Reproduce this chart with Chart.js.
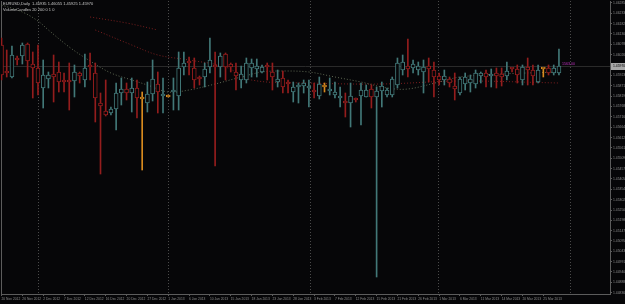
<!DOCTYPE html>
<html><head><meta charset="utf-8">
<script src="https://cdn.jsdelivr.net/npm/chart.js@4/dist/chart.umd.min.js"></script>
<style>html,body{margin:0;padding:0;background:#060608;overflow:hidden}#wrap{width:625px;height:304px}</style>
</head><body><div id="wrap"><canvas id="c" width="625" height="304"></canvas></div>
<script>
// ---------- data ----------
const symbolName = "EURUSD,Daily";
const indicatorName = "VolumeCandles 20 200 0 1 0";
const sideLabel = "1563.00";

const open = [1.46075,
 1.45945,1.45915,1.46005,1.46020,1.46080,1.45980,1.45960,1.45860,1.45905,1.45930,
 1.45940,1.45895,1.45895,1.45895,1.45935,1.45900,1.45970,1.45935,1.45785,1.45745,
 1.45735,1.45755,1.45835,1.45855,1.45835,1.45860,1.45810,1.45785,1.45830,1.45880,
 1.45820,1.45820,1.45840,1.45820,1.45965,1.45990,1.45960,1.45915,1.45915,1.45965,
 1.45975,1.45965,1.46030,1.45980,1.45940,1.45900,1.45900,1.45960,1.45955,1.45940,
 1.45970,1.45940,1.45890,1.45910,1.45890,1.45840,1.45865,1.45870,1.45860,1.45845,
 1.45820,1.45870,1.45845,1.45825,1.45810,1.45790,1.45785,1.45805,1.45820,1.45815,
 1.45855,1.45815,1.45845,1.45825,1.45825,1.45875,1.45950,1.45970,1.45960,1.45950,
 1.45940,1.45970,1.45950,1.45920,1.45900,1.45905,1.45870,1.45835,1.45880,1.45885,
 1.45880,1.45920,1.45935,1.45920,1.45935,1.45930,1.45920,1.45960,1.45955,1.45900,
 1.45965,1.45950,1.45890,1.45955,1.45960,1.45935,1.45935];
const high = [1.46110,
 1.46050,1.46070,1.46020,1.46085,1.46085,1.46040,1.46075,1.46000,1.45940,1.46025,
 1.45990,1.45935,1.45985,1.45975,1.45940,1.46030,1.46035,1.45985,1.45835,1.45900,
 1.45765,1.45885,1.45910,1.45885,1.45910,1.45900,1.45840,1.45890,1.46000,1.45940,
 1.45910,1.45825,1.45910,1.46040,1.46040,1.46015,1.46010,1.45920,1.45985,1.46110,
 1.46040,1.46035,1.46035,1.45985,1.45985,1.45970,1.46010,1.46005,1.46005,1.45975,
 1.45985,1.45985,1.45950,1.45945,1.45900,1.45890,1.45885,1.45900,1.45900,1.45885,
 1.45915,1.45885,1.45910,1.45890,1.45865,1.45835,1.45885,1.45810,1.45885,1.45875,
 1.45875,1.45865,1.45890,1.45860,1.45915,1.46010,1.46025,1.46105,1.46000,1.45990,
 1.46000,1.46010,1.45990,1.45935,1.45950,1.45915,1.45935,1.45915,1.45935,1.45925,
 1.45950,1.45940,1.45950,1.45955,1.45960,1.45960,1.45990,1.45960,1.45975,1.45975,
 1.46010,1.45975,1.45975,1.45960,1.45975,1.45975,1.46055];
const low = [1.45900,
 1.45915,1.45910,1.45975,1.45980,1.45915,1.45810,1.45825,1.45760,1.45860,1.45790,
 1.45840,1.45840,1.45750,1.45815,1.45885,1.45865,1.45900,1.45690,1.45430,1.45720,
 1.45725,1.45650,1.45775,1.45800,1.45740,1.45710,1.45450,1.45740,1.45795,1.45735,
 1.45735,1.45815,1.45750,1.45750,1.45925,1.45925,1.45860,1.45875,1.45865,1.45935,
 1.45470,1.45915,1.45900,1.45940,1.45850,1.45860,1.45885,1.45915,1.45915,1.45935,
 1.45900,1.45850,1.45865,1.45835,1.45835,1.45790,1.45785,1.45835,1.45765,1.45810,
 1.45805,1.45840,1.45825,1.45810,1.45765,1.45715,1.45665,1.45790,1.45675,1.45815,
 1.45760,1.44915,1.45765,1.45815,1.45815,1.45860,1.45925,1.45915,1.45935,1.45925,
 1.45835,1.45890,1.45815,1.45875,1.45875,1.45865,1.45800,1.45825,1.45850,1.45840,
 1.45860,1.45885,1.45865,1.45865,1.45860,1.45870,1.45900,1.45940,1.45885,1.45875,
 1.45875,1.45875,1.45885,1.45915,1.45925,1.45925,1.45925];
const close = [1.45925,
 1.45935,1.46025,1.46000,1.46075,1.45995,1.45960,1.45885,1.45925,1.45925,1.45915,
 1.45890,1.45890,1.45890,1.45940,1.45920,1.45960,1.45965,1.45810,1.45770,1.45725,
 1.45755,1.45835,1.45855,1.45835,1.45860,1.45810,1.45805,1.45830,1.45905,1.45840,
 1.45825,1.45815,1.45845,1.45960,1.45985,1.45985,1.45900,1.45905,1.45955,1.46000,
 1.45965,1.46020,1.45965,1.45965,1.45920,1.45930,1.45985,1.45985,1.45970,1.45965,
 1.45965,1.45915,1.45905,1.45865,1.45880,1.45865,1.45875,1.45885,1.45870,1.45840,
 1.45880,1.45865,1.45850,1.45840,1.45815,1.45785,1.45820,1.45800,1.45850,1.45850,
 1.45815,1.45845,1.45870,1.45850,1.45905,1.45985,1.45990,1.45955,1.45980,1.45970,
 1.45965,1.45955,1.45915,1.45900,1.45920,1.45885,1.45855,1.45905,1.45915,1.45905,
 1.45935,1.45935,1.45915,1.45930,1.45920,1.45915,1.45945,1.45955,1.45925,1.45965,
 1.45950,1.45920,1.45950,1.45955,1.45935,1.45960,1.45970];
const firstBar = -1;
const orangeBars = [26, 31, 61, 103];

const maGreyX = [-1, 3, 6, 8, 12, 16, 20, 24, 27, 31, 35, 40, 45, 49, 53, 58, 63, 68, 73, 77, 83, 87, 95, 106];
const maGreyY = [1.46275,1.46240,1.46195,1.46150,1.46065,1.45995,1.45935,1.45900,1.45875,1.45840,1.45850,1.45880,
                 1.45915,1.45940,1.45945,1.45940,1.45915,1.45890,1.45860,1.45855,1.45890,1.45915,1.45930,1.45940];
const maRedX = [17, 24, 29, 35, 42, 47, 58, 72, 87, 106];
const maRedY = [1.46150,1.46075,1.46025,1.46000,1.45965,1.45900,1.45885,1.45880,1.45895,1.45885];
const maRed2X = [16, 23, 29];
const maRed2Y = [1.46215,1.46185,1.46150];

const xTickBars = [-1,3,7,11,15,19,23,27,31,35,39,43,47,51,55,59,63,67,71,75,79,83,87,91,95,99,103];
const xTickLabels = ["20 Nov 2012","26 Nov 2012","2 Dec 2012","7 Dec 2012","12 Dec 2012","16 Dec 2012","20 Dec 2012",
 "27 Dec 2012","1 Jan 2013","6 Jan 2013","10 Jan 2013","15 Jan 2013","18 Jan 2013","23 Jan 2013","28 Jan 2013",
 "3 Feb 2013","7 Feb 2013","12 Feb 2013","15 Feb 2013","21 Feb 2013","26 Feb 2013","1 Mar 2013","6 Mar 2013",
 "11 Mar 2013","14 Mar 2013","20 Mar 2013","25 Mar 2013"];
const monthSeparators = [6.0, 31.0, 58.2, 82.8, 108.1];
const yTickValues = [1.46285,1.46233,1.46182,1.46130,1.46078,1.46026,1.45975,1.45923,1.45871,1.45819,
 1.45768,1.45716,1.45664,1.45612,1.45561,1.45509,1.45457,1.45405,1.45354,1.45302,1.45250,1.45198,
 1.45147,1.45095,1.45043,1.44991,1.44940,1.44888,1.44836];

// ---------- style ----------
const BG = '#060608', TEAL = '#427878', RED = '#941d1d', ORANGE = '#d88a1e';
const AXIS = '#5c5c5c', TXT = '#8c8c8c';
const FONT = 'Liberation Sans';

const barX = open.map((_, k) => k + firstBar);
function colorOf(k) {
  const b = barX[k];
  if (orangeBars.includes(b)) return ORANGE;
  return close[k] > open[k] ? TEAL : RED;
}
const lastK = open.length - 1;

const overlay = {
  id: 'overlay',
  beforeDraw(chart) {
    const c = chart.ctx; c.save(); c.fillStyle = BG; c.fillRect(0, 0, chart.width, chart.height); c.restore();
  },
  beforeDatasetsDraw(chart) {
    const {ctx, chartArea: a, scales: {x, y}} = chart;
    ctx.save();
    ctx.lineWidth = 1;
    ctx.strokeStyle = '#4a4a4a'; ctx.setLineDash([1, 2]);
    monthSeparators.forEach(v => {
      const px = Math.round(x.getPixelForValue(v)) + 0.5;
      ctx.beginPath(); ctx.moveTo(px, a.top); ctx.lineTo(px, a.bottom); ctx.stroke();
    });
    ctx.setLineDash([]);
    const py = Math.round(y.getPixelForValue(close[lastK])) + 0.5;
    ctx.strokeStyle = '#2a2a2a';
    ctx.beginPath(); ctx.moveTo(a.left, py); ctx.lineTo(a.right, py); ctx.stroke();
    ctx.strokeStyle = AXIS;
    ctx.beginPath(); ctx.moveTo(a.left + 0.5, a.top); ctx.lineTo(a.left + 0.5, a.bottom); ctx.stroke();
    ctx.restore();
  },
  afterDraw(chart) {
    const {ctx, chartArea: a, scales: {x, y}} = chart;
    ctx.save();
    ctx.textBaseline = 'middle'; ctx.textAlign = 'left';
    ctx.font = '4px ' + FONT; ctx.fillStyle = '#c8c8c8';
    const t1 = symbolName + '  ' + [open[lastK], high[lastK], low[lastK], close[lastK]].map(v => v.toFixed(5)).join(' ');
    ctx.fillText(t1, 3, 3.5);
    ctx.fillText(indicatorName, 3, 9.5);
    const py = y.getPixelForValue(close[lastK]);
    ctx.font = '3.6px ' + FONT; ctx.fillStyle = '#c030c0';
    ctx.fillText(sideLabel, x.getPixelForValue(barX[lastK]) + 3, py - 2.5);
    ctx.fillStyle = '#a8a8a8';
    ctx.fillRect(a.right + 1, Math.round(py) - 3, chart.width - a.right - 1, 7);
    ctx.fillStyle = '#000';
    ctx.font = '3.4px ' + FONT;
    ctx.fillText(close[lastK].toFixed(5), a.right + 3, Math.round(py) + 0.5);
    ctx.restore();
  }
};

const lineDs = (xs, ys, color) => ({
  type: 'line', data: xs.map((v, i) => ({x: v, y: ys[i]})), borderColor: color, borderWidth: 1,
  borderDash: [1, 2], pointRadius: 0, tension: 0.35, order: 5, fill: false
});

new Chart(document.getElementById('c'), {
  type: 'bar',
  data: {
    datasets: [
      lineDs(maGreyX, maGreyY, '#5e6852'),
      lineDs(maRedX, maRedY, '#7a1e1e'),
      lineDs(maRed2X, maRed2Y, '#7a1e1e'),
      {
        data: barX.map((b, k) => ({x: b, y: [low[k], high[k]]})),
        backgroundColor: c => colorOf(c.dataIndex), borderWidth: 0,
        barThickness: 1, grouped: false, order: 2
      },
      {
        data: barX.map((b, k) => ({x: b, y: [open[k], close[k]]})),
        backgroundColor: BG, borderColor: c => colorOf(c.dataIndex), borderWidth: 1,
        borderSkipped: false, barThickness: 4, grouped: false, order: 1, minBarLength: 2
      }
    ]
  },
  options: {
    animation: false, responsive: false, maintainAspectRatio: false,
    layout: {padding: {left: 1, top: 1, right: 0, bottom: 0}},
    plugins: {legend: {display: false}, tooltip: {enabled: false}},
    scales: {
      x: {
        type: 'linear', min: -1.1, max: 115.8, position: 'bottom', offset: false,
        afterBuildTicks: s => { s.ticks = xTickBars.map(v => ({value: v})); },
        afterFit: s => { s.height = 10; s.paddingLeft = 0; s.paddingRight = 0; },
        ticks: {callback: (v, i) => xTickLabels[i], autoSkip: false, maxRotation: 0, minRotation: 0,
                align: 'start', color: TXT, font: {size: 3.3, family: FONT}, padding: 1},
        grid: {drawOnChartArea: false, tickLength: 2, color: AXIS, offset: false},
        border: {display: true, color: AXIS}
      },
      y: {
        type: 'linear', position: 'right', min: 1.44830, max: 1.46295,
        afterBuildTicks: s => { s.ticks = yTickValues.map(v => ({value: v})); },
        afterFit: s => { s.width = 15; s.paddingTop = 0; s.paddingBottom = 0; },
        ticks: {callback: v => v.toFixed(5), autoSkip: false, color: TXT, font: {size: 3.4, family: FONT}, padding: 1},
        grid: {drawOnChartArea: false, tickLength: 2, color: AXIS},
        border: {display: true, color: AXIS}
      }
    }
  },
  plugins: [overlay]
});
</script>
</body></html>
